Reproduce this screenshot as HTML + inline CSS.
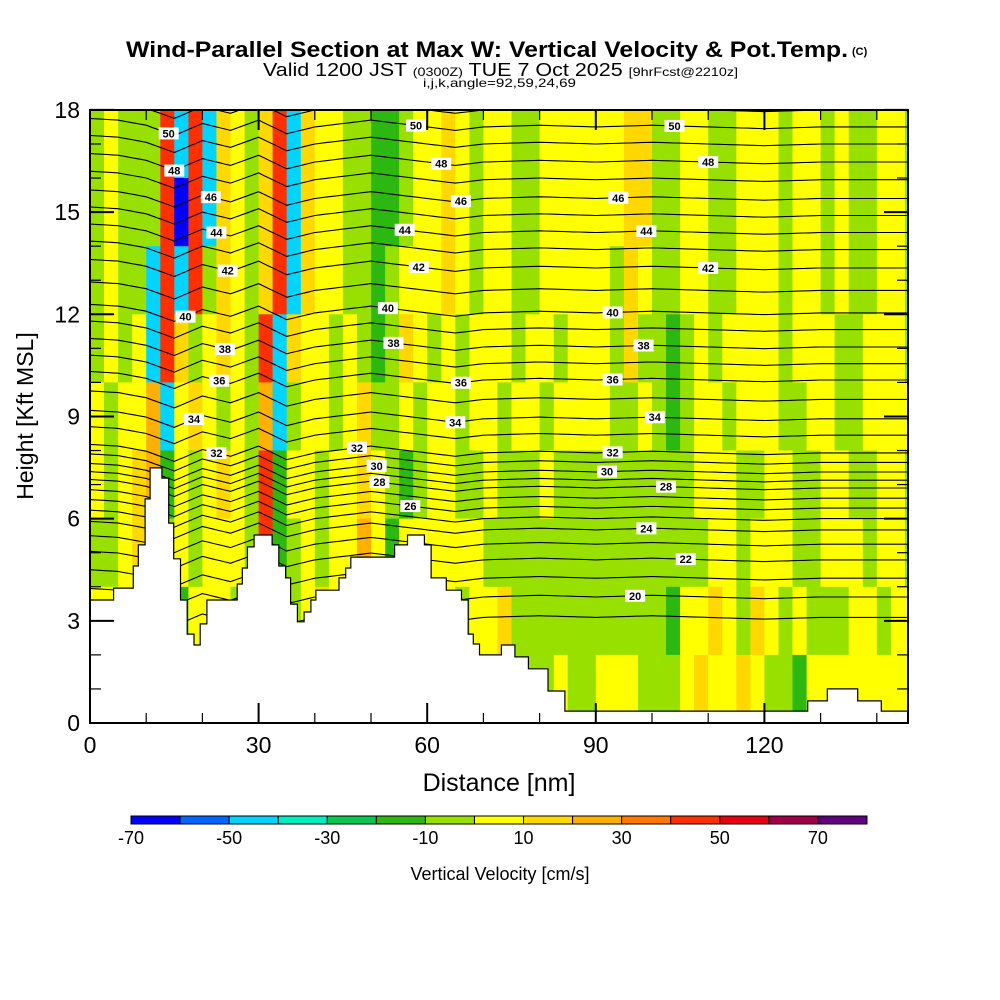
<!DOCTYPE html>
<html><head><meta charset="utf-8"><style>
html,body{margin:0;padding:0;background:#fff;}
svg{display:block;font-family:"Liberation Sans",sans-serif;}
</style></head><body>
<svg id="chart" width="1000" height="1000" viewBox="0 0 1000 1000">
<defs><clipPath id="plotclip"><rect x="90" y="110" width="818" height="613"/></clipPath></defs>
<g>
<text x="126" y="57" font-size="22" font-weight="bold" textLength="722" lengthAdjust="spacingAndGlyphs">Wind-Parallel Section at Max W: Vertical Velocity &amp; Pot.Temp.</text>
<text x="852" y="55" font-size="11" font-weight="bold">(C)</text>
<text x="263" y="76" font-size="18" textLength="475" lengthAdjust="spacingAndGlyphs">Valid 1200 JST <tspan font-size="12">(0300Z)</tspan> TUE 7 Oct 2025 <tspan font-size="12">[9hrFcst@2210z]</tspan></text>
<text x="423" y="87" font-size="12" textLength="153" lengthAdjust="spacingAndGlyphs">i,j,k,angle=92,59,24,69</text>
</g>
<g id="heat" clip-path="url(#plotclip)"></g>
<g id="contours" clip-path="url(#plotclip)"></g>
<g id="terrain"></g>
<g id="clabels"></g>
<rect x="90" y="110" width="818" height="613" fill="none" stroke="#000" stroke-width="2"/>
<g id="axes"></g>
<text x="0" y="0" transform="translate(33,416) rotate(-90)" text-anchor="middle" font-size="23">Height [Kft MSL]</text>
<text x="499" y="791" text-anchor="middle" font-size="25">Distance [nm]</text>
<g id="cbar"></g>
<text x="500" y="880" text-anchor="middle" font-size="18">Vertical Velocity [cm/s]</text>
</svg>
<script>
const colorEdges = [-70,-60,-50,-40,-30,-20,-10,0,10,20,30,40,50,60,70,80];
const colorbarLabels = [-70,-50,-30,-10,10,30,50,70];
const palette = ["#0000ff","#0066ff","#00d4ff","#00eec0","#08c850","#2cb810","#98e000","#ffff00","#ffd800","#ffb000","#ff7800","#ff3000","#e80010","#a00048","#600080"];
const rowBottomsKft = [16,14,12,10,8,6,4,2,0];
const colWidthNm = 2.5;
const row16 = [-5,5,-5,-5,-5,45,-45,45,-45,15,5,-5,15,45,-45,15,5,5,-5,-5,-15,-15,-5,5,5,15,5,-5,5,5,-5,-5,5,5,5,5,5,5,15,15,-5,-5,5,5,-5,-5,5,5,5,-5,5,5,-5,5,-5,-5,5,5,-5];
const row14 = [-5,5,-5,-5,-5,45,-65,45,-45,15,5,-5,15,45,-45,15,5,5,-5,-5,-15,-15,-5,5,5,15,5,-5,5,5,-5,-5,5,5,5,5,5,5,15,15,-5,-5,5,5,-5,-5,5,5,5,-5,5,5,-5,5,-5,-5,5,5,-5];
const row12 = [-5,5,-5,-5,-45,45,-45,45,-5,15,5,-5,15,45,-45,15,5,5,-5,-5,-15,-5,5,5,5,15,5,-5,5,5,-5,-5,5,5,5,5,5,-5,15,5,-5,-5,5,5,-5,-5,5,5,5,-5,5,5,-5,5,-5,-5,5,5,-5];
const row10 = [-5,5,-5,5,-45,45,15,-5,5,15,5,-5,45,-45,15,5,5,-5,5,-5,-15,-5,15,5,-5,5,-5,5,5,5,-5,5,5,-5,5,5,5,-5,15,-5,-5,-15,-5,5,-5,5,5,5,5,-5,5,5,5,-5,-5,5,5,5,-5];
const row8 = [5,-5,5,5,25,-45,5,15,5,-5,5,-5,25,-45,-5,5,5,-5,5,15,-5,-5,5,-5,5,5,-5,5,5,-5,5,5,-5,5,5,5,5,-5,-5,5,-5,-15,-5,5,5,-5,5,5,5,-5,-5,5,5,-5,-5,5,5,5,5];
const row6 = [5,-5,5,15,25,-15,5,-5,5,15,5,-5,45,-15,5,5,-5,5,5,15,5,-5,-15,-5,5,5,-5,-5,5,-5,-5,-5,5,-5,-5,-5,-5,-5,-5,-5,-5,-5,-5,5,5,5,-5,-5,5,5,-5,-5,5,5,-5,-5,5,5,-5];
const row4 = [-5,-5,5,15,5,-5,5,-5,5,5,5,-5,45,-15,-5,5,-5,5,5,25,5,-15,5,5,5,5,5,5,-5,-5,-5,-5,-5,-5,-5,-5,-5,-5,-5,-5,-5,-5,-5,-5,5,5,-5,5,5,5,-5,-5,5,5,5,-5,5,5,-5];
const row2 = [5,5,5,5,5,-5,-15,5,5,5,-5,15,5,15,-5,5,15,5,5,5,5,5,5,5,15,5,-5,5,5,15,-5,-5,-5,-5,-5,-5,-5,-5,-5,-5,-5,-15,5,5,15,5,-5,15,5,-5,5,-5,-5,-5,5,5,-5,5,5];
const row0 = [5,5,5,5,5,5,5,5,5,5,5,5,5,5,5,5,5,5,5,5,5,5,5,5,5,5,5,15,5,15,-5,-5,-5,5,-5,-5,5,5,5,-5,-5,-5,5,15,5,5,15,5,-5,-5,-15,5,5,5,5,5,5,5,5];
const fieldRows = [row16,row14,row12,row10,row8,row6,row4,row2,row0];
const terrainStartNm = [0,4.2,7.7,8.6,9.8,10.7,12.8,14.0,14.9,16.1,17.3,18.5,19.6,20.8,26.2,27.1,28.0,29.2,32.4,33.6,34.8,35.7,36.9,38.1,39.3,40.2,44.3,45.5,46.4,54.2,56.5,59.5,60.7,63.4,66.1,67.3,68.2,69.3,73.2,75.6,78.0,81.5,84.5,127.7,131.2,136.6,140.8];
const terrainKft = [3.61,3.96,4.61,5.23,6.58,7.49,7.19,5.87,4.82,3.61,2.61,2.29,2.91,3.61,4.08,4.55,5.17,5.52,5.23,4.61,4.26,3.49,2.97,3.26,3.61,3.9,4.26,4.55,4.87,5.23,5.52,5.23,4.26,3.9,3.61,2.61,2.32,2.0,2.29,1.94,1.59,0.94,0.35,0.65,1.0,0.65,0.35];
const thetaLevels = [19,20,21,22,23,24,25,26,27,28,29,30,31,32,33,34,35,36,37,38,39,40,41,42,43,44,45,46,47,48,49,50,51];
const thetaKft = [3.1,3.7,4.25,4.79,5.25,5.67,6.0,6.31,6.6,6.9,7.13,7.37,7.65,7.93,8.45,8.93,9.5,10.07,10.55,11.04,11.55,12.04,12.7,13.36,13.9,14.4,14.9,15.4,15.95,16.47,17.0,17.5,18.0];
const dispNm = [0,5,10,15,20,25,30,35,40,45,50,55,60,65,70,80,90,100,110,120,130,146];
const dispKft = [0.25,0.2,0.05,-0.25,0.1,-0.1,0.2,-0.2,0.0,0.1,0.2,0.1,0.0,-0.1,0.0,0.05,0.0,0.05,0.0,-0.05,0.0,0.0];
const labelLevels = [50,50,50,48,48,48,46,46,46,44,44,44,42,42,42,40,40,40,38,38,38,36,36,36,34,34,34,32,32,32,30,30,28,28,26,24,22,20];
const labelNm = [14,58,104,15,62.5,110,21.5,66,94,22.5,56,99,24.5,58.5,110,17,53,93,24,54,98.5,23,66,93,18.5,65,100.5,22.5,47.5,93,51,92,51.5,102.5,57,99,106,97];
const NS="http://www.w3.org/2000/svg";
const X = nm => 90 + nm*5.62;
const Y = k => 723 - k*34.06;
function mk(tag, attrs, parent){const e=document.createElementNS(NS,tag);for(const k in attrs)e.setAttribute(k,attrs[k]);parent.appendChild(e);return e;}
function colorOf(v){for(let i=0;i<palette.length;i++){if(v<colorEdges[i+1])return palette[i];}return palette[palette.length-1];}
const heat=document.getElementById('heat');
fieldRows.forEach((row,r)=>{
  const k0=rowBottomsKft[r];
  row.forEach((v,c)=>{
    const x0=X(c*colWidthNm), x1=X((c+1)*colWidthNm);
    const rc=mk('rect',{x:x0.toFixed(1),y:Y(k0+2).toFixed(1),width:(x1-x0+0.6).toFixed(1),height:(Y(k0)-Y(k0+2)+0.6).toFixed(1),fill:colorOf(v)},heat);
    
    
  });
});
function disp(nm){for(let i=0;i<dispNm.length-1;i++){if(nm<=dispNm[i+1]){const t=(nm-dispNm[i])/(dispNm[i+1]-dispNm[i]);return dispKft[i]+t*(dispKft[i+1]-dispKft[i]);}}return 0;}
function lineY(level,nm){const i=thetaLevels.indexOf(level);return Y(thetaKft[i]+disp(nm));}
const cg=document.getElementById('contours');
thetaLevels.forEach(lv=>{
  let d='';
  for(let nm=0;nm<=146;nm+=1){d+=(nm?'L':'M')+X(nm).toFixed(1)+','+lineY(lv,nm).toFixed(1);}
  const p=mk('path',{d:d,fill:'none',stroke:'#000','stroke-width':1.1},cg);
  
  
});
const tg=document.getElementById('terrain');
let td='M'+X(0)+','+Y(0);
terrainStartNm.forEach((s,i)=>{const e=i+1<terrainStartNm.length?terrainStartNm[i+1]:145.6;td+='L'+X(s).toFixed(1)+','+Y(terrainKft[i]).toFixed(1)+'L'+X(e).toFixed(1)+','+Y(terrainKft[i]).toFixed(1);});
td+='L'+X(145.6)+','+Y(0)+'Z';
const tp=mk('path',{d:td,fill:'#fff',stroke:'#000','stroke-width':1.2},tg);


const lg=document.getElementById('clabels');
labelLevels.forEach((lv,i)=>{
  const x=X(labelNm[i]), y=lineY(lv,labelNm[i]);
  const g=mk('g',{},lg);
  
  
  mk('rect',{x:x-10,y:y-6,width:20,height:12,fill:'#fff'},g);
  const t=mk('text',{x:x,y:y+4,'text-anchor':'middle','font-size':11,'font-weight':'bold'},g);
  t.textContent=lv;
});
const ag=document.getElementById('axes');
for(let k=0;k<=18;k++){
  const major=k%3===0, L=major?24:11, y=Y(k);
  const t1=mk('line',{x1:90,x2:90+L,y1:y,y2:y,stroke:'#000','stroke-width':major?2:1.2},ag);
  
  
  const t2=mk('line',{x1:908-L,x2:908,y1:y,y2:y,stroke:'#000','stroke-width':major?2:1.2},ag);
  
  
  if(major){const tx=mk('text',{x:80,y:y+8,'text-anchor':'end','font-size':23},ag);tx.textContent=k;
    
    }
}
for(let nm=0;nm<=140;nm+=10){
  const major=nm%30===0, L=major?20:10, x=X(nm);
  const b=mk('line',{x1:x,x2:x,y1:723,y2:723-L,stroke:'#000','stroke-width':major?2:1.2},ag);
  
  
  const t=mk('line',{x1:x,x2:x,y1:110,y2:110+L,stroke:'#000','stroke-width':major?2:1.2},ag);
  
  
  if(major){const tx=mk('text',{x:x,y:753,'text-anchor':'middle','font-size':23},ag);tx.textContent=nm;
    
    }
}
const cb=document.getElementById('cbar');
const cbX0=131, cbW=736/palette.length;
palette.forEach((c,i)=>{const r=mk('rect',{x:cbX0+i*cbW,y:816,width:cbW,height:8,fill:c,stroke:'#000','stroke-width':1},cb);
  
  });
colorbarLabels.forEach(v=>{const i=colorEdges.indexOf(v);const t=mk('text',{x:cbX0+i*cbW,y:844,'text-anchor':'middle','font-size':18},cb);t.textContent=v;
  
  });
</script>
</body></html>
